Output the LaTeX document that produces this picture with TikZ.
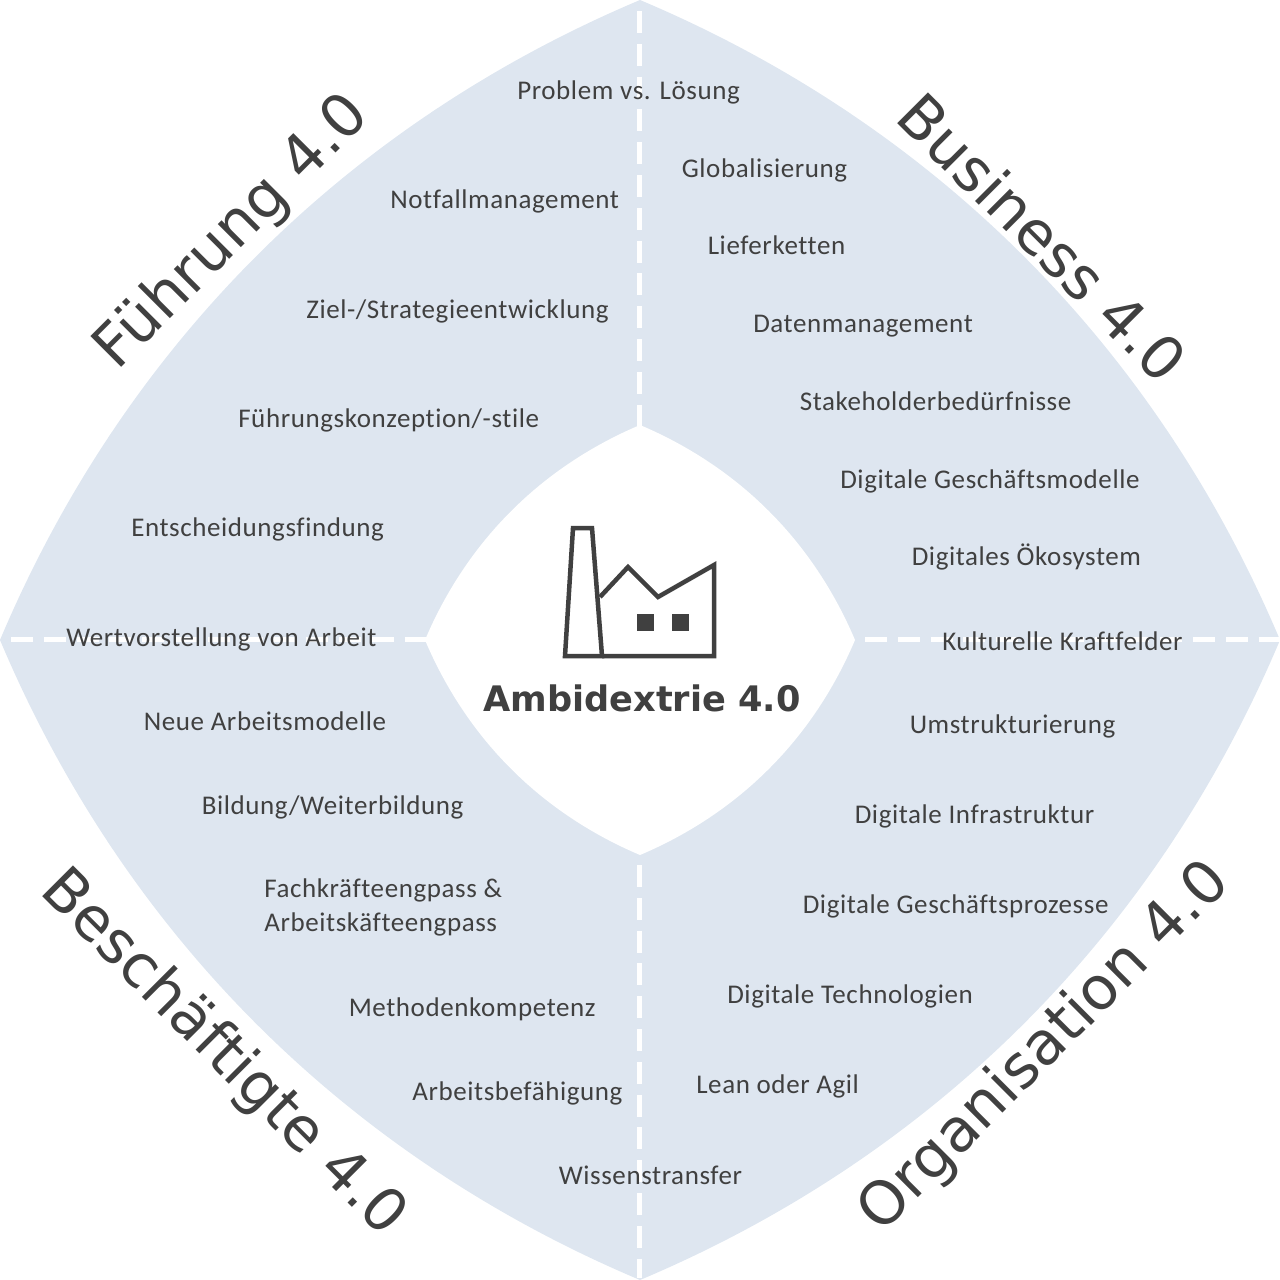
\documentclass[tikz,border=0pt]{standalone}
\usepackage{fontspec}
\setmainfont{Carlito}[LetterSpace=2.2,Ligatures=NoCommon]
\newfontfamily\bigfont{DejaVu Sans}
\definecolor{panel}{HTML}{DEE6F0}
\definecolor{ink}{HTML}{404040}
\tikzset{
  topic/.style={anchor=base west,inner sep=0pt,text=ink,font=\fontsize{19.2}{24.2}\selectfont,align=left},
  area/.style={inner sep=0pt,text=ink,font=\bigfont\fontsize{42.5}{50}\selectfont},
  divider/.style={white,line width=3.9pt,dash pattern=on 15.65pt off 7.68pt},
  plant/.style={draw=ink,line width=3.2pt,line join=miter}
}
\begin{document}
\begin{tikzpicture}[x=0.025cm,y=-0.025cm]
\useasboundingbox (0,0) rectangle (1280,1280);
\fill[panel] (640,0) .. controls (934,124) and (1156,346) .. (1280,640)
  .. controls (1156,934) and (934,1156) .. (640,1280)
  .. controls (346,1156) and (124,934) .. (0,640)
  .. controls (124,346) and (346,124) .. (640,0) -- cycle;
\coordinate (t0) at (639.5,11); \coordinate (t1) at (639.5,430);
\coordinate (b0) at (639.5,865); \coordinate (b1) at (639.5,1278);
\coordinate (l0) at (11,639.5); \coordinate (l1) at (430,639.5);
\coordinate (r0) at (865,639.5); \coordinate (r1) at (1280,639.5);
\draw[divider] (t0) -- (t1);
\draw[divider] (b0) -- (b1);
\draw[divider] (r0) -- (r1);
\draw[divider] (l0) -- (l1);
\fill[white] (640,425) .. controls (739,467) and (813,541) .. (855,640)
  .. controls (813,739) and (739,813) .. (640,855)
  .. controls (541,813) and (467,739) .. (425,640)
  .. controls (467,541) and (541,467) .. (640,425) -- cycle;
% factory
\draw[plant] (565,656) -- (573,528) -- (592,528) -- (602,656) -- cycle;
\draw[plant] (600,597) -- (628,567) -- (658,597) -- (714,565) -- (714,656) -- (602,656);
\fill[ink] (637,614) rectangle (654,631);
\fill[ink] (672,614) rectangle (689,631);
\node[inner sep=0pt,anchor=base,text=ink,font=\bigfont\bfseries\fontsize{25}{30}\selectfont] (title) at (642,711) {Ambidextrie 4.0};
% areas
\node[area,rotate=45] (fuehrung) at (233,233) {Führung 4.0};
\node[area,rotate=-45] (business) at (1043,237) {Business 4.0};
\node[area,rotate=45] (organisation) at (1045,1048) {Organisation 4.0};
\node[area,rotate=-45] (beschaeftigte) at (222.5,1054) {Beschäftigte 4.0};
% topics
\node[topic] (a1) at (517,100) {Problem vs. Lösung};
\node[topic] (a2) at (390,209) {Notfallmanagement};
\node[topic] (a3) at (306,318.5) {Ziel-/Strategieentwicklung};
\node[topic] (a4) at (238,427.5) {Führungskonzeption/-stile};
\node[topic] (a5) at (131,536.5) {Entscheidungsfindung};
\node[topic] (a6) at (66,646.5) {Wertvorstellung von Arbeit};
\node[topic] (c1) at (143.5,730) {Neue Arbeitsmodelle};
\node[topic] (c2) at (201.5,814) {Bildung/Weiterbildung};
\node[topic,anchor=north west] (c3) at (264,878.5) {Fachkräfteengpass \&\\Arbeitskäfteengpass};
\node[topic] (c4) at (348.5,1016) {Methodenkompetenz};
\node[topic] (c5) at (412,1100) {Arbeitsbefähigung};
\node[topic] (c6) at (558.5,1184) {Wissenstransfer};
\node[topic] (b1n) at (681.5,177.5) {Globalisierung};
\node[topic] (b2) at (707.5,254.5) {Lieferketten};
\node[topic] (b3) at (753,332) {Datenmanagement};
\node[topic] (b4) at (799.5,410) {Stakeholderbedürfnisse};
\node[topic] (b5) at (840,488) {Digitale Geschäftsmodelle};
\node[topic] (b6) at (911.5,565.5) {Digitales Ökosystem};
\node[topic] (d1) at (942,650) {Kulturelle Kraftfelder};
\node[topic] (d2) at (909.5,733.5) {Umstrukturierung};
\node[topic] (d3) at (854.5,823.5) {Digitale Infrastruktur};
\node[topic] (d4) at (802.5,913.5) {Digitale Geschäftsprozesse};
\node[topic] (d5) at (727,1003.5) {Digitale Technologien};
\node[topic] (d6) at (696,1093.5) {Lean oder Agil};
\end{tikzpicture}
\end{document}
